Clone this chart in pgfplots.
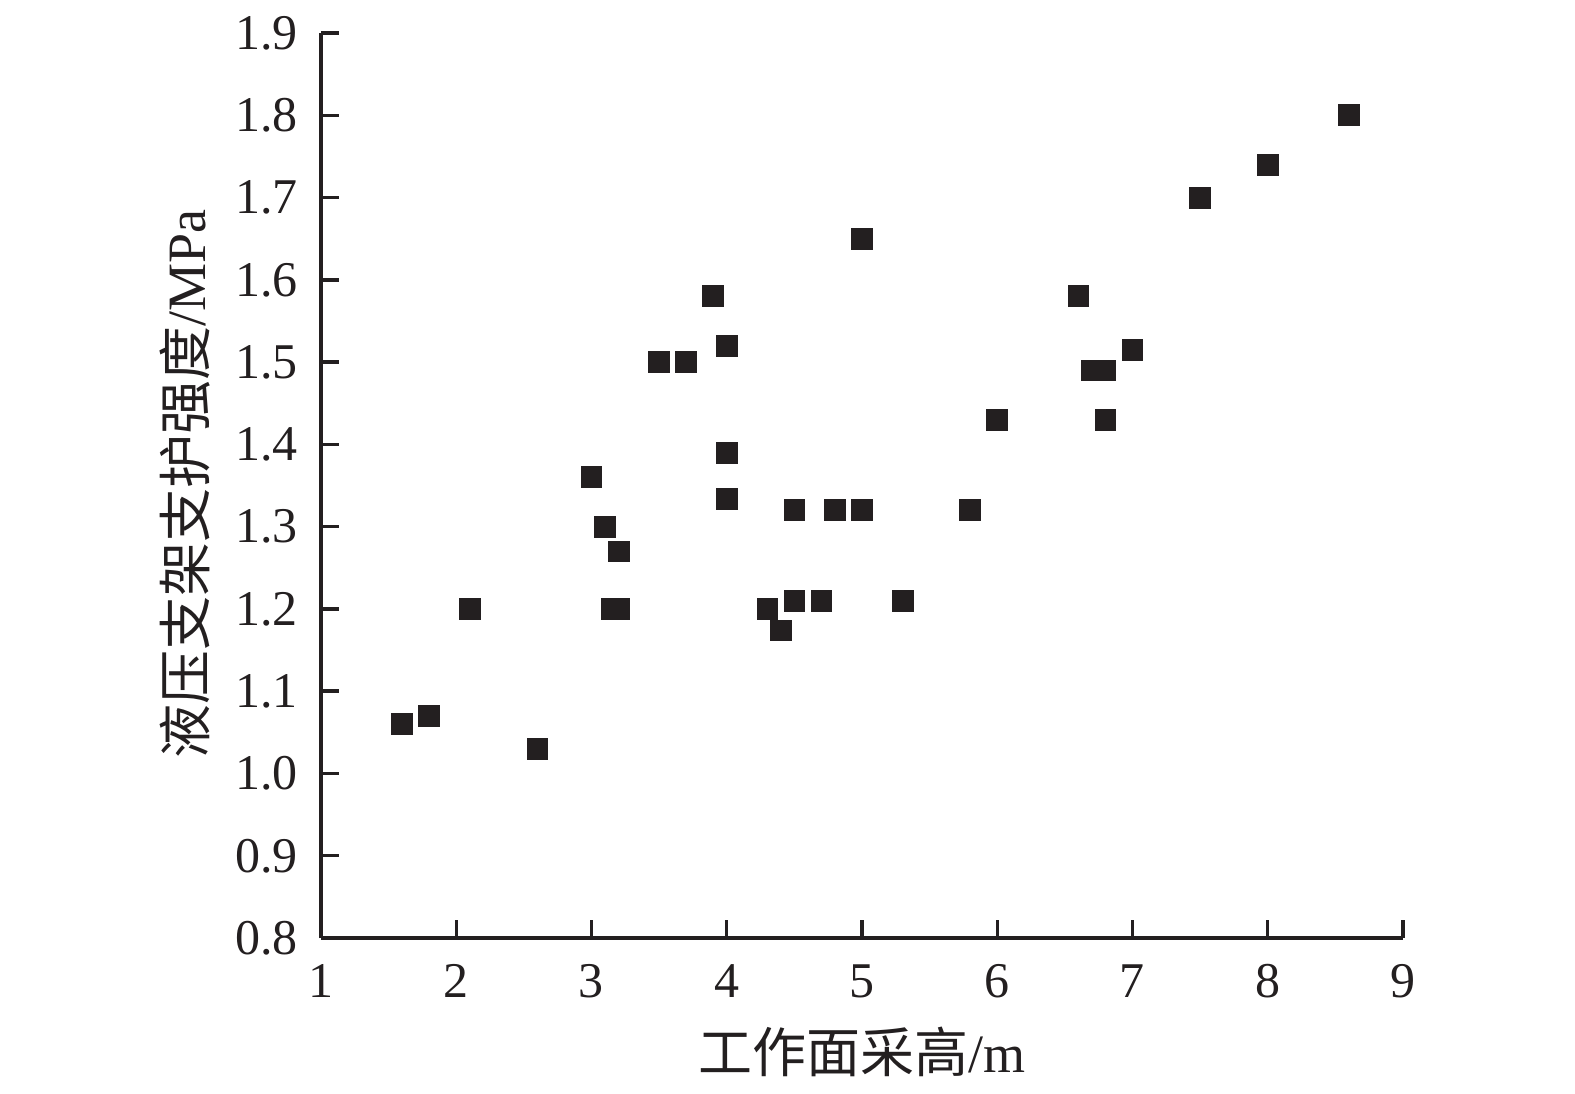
\documentclass[border=0pt]{standalone}
\usepackage{fontspec}
\setmainfont{Liberation Serif}
\newfontfamily\cjk{Noto Sans CJK SC}
\usepackage{pgfplots}
\pgfplotsset{compat=1.18}
\definecolor{ink}{HTML}{231F20}
\begin{document}
\begin{tikzpicture}
\path[use as bounding box] (-160.5pt,-77.5pt) rectangle (627pt,469pt);
\begin{axis}[
  at={(0,0)}, anchor=south west,
  scale only axis,
  width=541pt, height=452.5pt,
  xmin=1, xmax=9, ymin=0.8, ymax=1.9,
  axis lines=left,
  axis line style={-, line width=1.7pt, color=ink},
  every tick/.style={line width=1.7pt, color=ink},
  major tick length=9pt,
  tick align=inside,
  xtick={1,2,...,9},
  ytick={0.8,0.9,...,1.9},
  /pgf/number format/assume math mode=true,
  /pgf/number format/.cd, fixed, fixed zerofill, precision=1, /pgfplots/.cd,
  xticklabel={\pgfmathprintnumber[precision=0,fixed zerofill=false]{\tick}},
  ticklabel style={font=\fontsize{25}{30}\selectfont, color=ink, inner sep=0pt},
  yticklabel style={anchor=east, xshift=-11.5pt},
  xticklabel style={anchor=north, yshift=-13pt},
  xlabel={{\cjk 工作面采高}/m},
  ylabel={{\cjk 液压支架支护强度}/MPa},
  label style={font=\fontsize{27}{32}\selectfont, color=ink, inner sep=0pt},
  xlabel style={at={(axis description cs:0.5,0)}, anchor=center, yshift=-57pt},
  ylabel style={at={(axis description cs:0,0.502)}, anchor=center, yshift=68pt},
  clip=false,
]
\addplot[only marks, mark=square*, mark size=5.2pt, color=ink, mark options={fill=ink, draw=ink}] coordinates {
(1.6,1.06) (1.8,1.07) (2.1,1.20) (2.6,1.03)
(3.0,1.36) (3.1,1.30) (3.2,1.27) (3.15,1.20) (3.2,1.20)
(3.5,1.50) (3.7,1.50) (3.9,1.58)
(4.0,1.52) (4.0,1.39) (4.0,1.334)
(4.3,1.20) (4.4,1.174) (4.5,1.32) (4.5,1.21) (4.7,1.21)
(4.8,1.32) (5.0,1.65) (5.0,1.32) (5.3,1.21)
(5.8,1.32) (6.0,1.43) (6.6,1.58) (6.7,1.49) (6.8,1.49) (6.8,1.43)
(7.0,1.515) (7.5,1.70) (8.0,1.74) (8.6,1.80)
};
\end{axis}
\end{tikzpicture}
\end{document}
